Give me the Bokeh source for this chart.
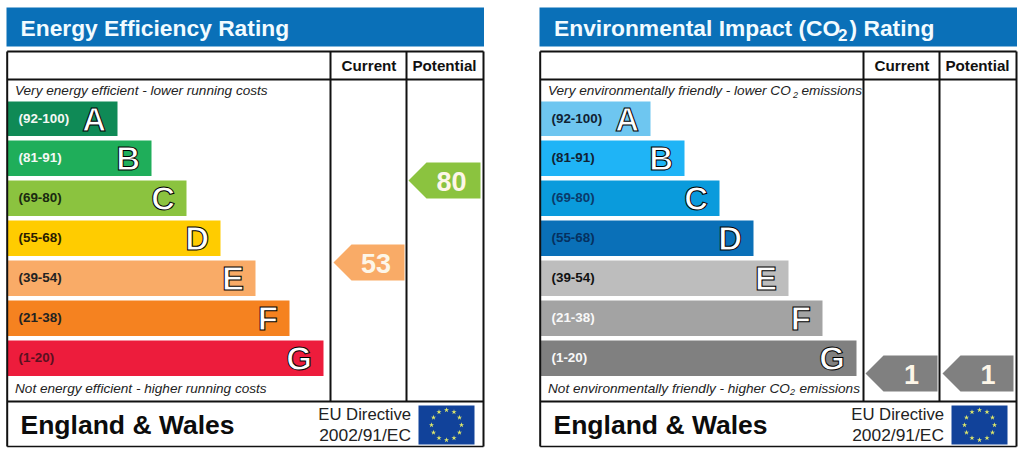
import math
from bokeh.plotting import figure
from bokeh.models import Range1d
from bokeh.core.properties import value
from bokeh.embed import file_html
from bokeh.resources import INLINE

# ---- data ----
band_letters = ["A", "B", "C", "D", "E", "F", "G"]
band_ranges = ["(92-100)", "(81-91)", "(69-80)", "(55-68)", "(39-54)", "(21-38)", "(1-20)"]
bar_lengths = [110, 144, 179, 213, 248, 282, 316]
energy_colors = ["#0f8a56", "#1fae5a", "#8bc33f", "#ffcc00", "#f9ab67", "#f58220", "#ed1c3c"]
env_colors = ["#6ec6f0", "#1fb4f6", "#0a9bdc", "#0a70b8", "#bdbdbd", "#a3a3a3", "#808080"]
energy_label_colors = ["#f4f8f4", "#f4f8f4", "#1a2a10", "#2a1c00", "#222222", "#222222", "#5a1020"]
env_label_colors = ["#112233", "#112233", "#0a3a6a", "#06305f", "#111111", "#f8f8f8", "#f8f8f8"]
energy_current, energy_potential = 53, 80
env_current, env_potential = 1, 1
column_titles = ["Current", "Potential"]
region = "England & Wales"
directive = ["EU Directive", "2002/91/EC"]

FONT = value("Liberation Sans")
W, H = 1024, 452
p = figure(width=W, height=H, x_range=Range1d(1, W + 1), y_range=Range1d(H + 1, 1),
           output_backend="svg", toolbar_location=None, min_border=0,
           background_fill_color="white", outline_line_color=None)
p.axis.visible = False
p.xgrid.visible = False
p.ygrid.visible = False


def txt(x, y, s, size, color="#111111", style="normal", align="left", base="middle", **kw):
    p.text([x], [y], text=[s], text_font=FONT, text_font_size=f"{size}px", text_color=color,
           text_font_style=style, text_align=align, text_baseline=base, **kw)


def arrow(x_tip, x_shoulder, x_right, y_top, y_bot, color, label):
    ym = (y_top + y_bot) / 2
    p.patch([x_tip, x_shoulder, x_right, x_right, x_shoulder],
            [ym, y_top, y_top, y_bot, y_bot], fill_color=color, line_color=None)
    off = -2 if label >= 10 else 1
    txt((x_shoulder + x_right) / 2 + off, ym + 1, str(label), 27, color="#fdf6e8", style="bold", align="center")


def panel(dx, colors, label_colors, cur, pot, cur_arrow, pot_arrow):
    # header
    p.quad(left=[dx + 7], right=[dx + 484.5], top=[8], bottom=[47], fill_color="#0a70b8", line_color=None)
    # bars
    tops = [102 + i * 40 - (1 if i else 0) for i in range(7)]
    for i, (ln, c) in enumerate(zip(bar_lengths, colors)):
        t = tops[i]
        b = t + (34.5 if i == 0 else 35.5)
        p.quad(left=[dx + 8], right=[dx + 8 + ln], top=[t], bottom=[b], fill_color=c, line_color=None)
        txt(dx + 19, t + 17, band_ranges[i], 13.4, color=label_colors[i], style="bold")
        txt(dx + 8 + ln - 11.5, t + 18, band_letters[i], 33, color="#ffffff", style="bold", align="right",
            text_outline_color="#000000")
    # frame
    xs0, xs1 = dx + 7.7, dx + 484
    for y in (52, 80, 402, 447):
        w = 1.4 if y == 447 else 2
        p.line([xs0, xs1], [y, y], line_color="#111111", line_width=w)
    for x in (xs0, dx + 331, dx + 407, xs1):
        p.line([x, x], [52, 402 if x in (dx + 331, dx + 407) else 447], line_color="#111111", line_width=2)
    # column heads
    txt(dx + 369.5, 66, column_titles[0], 15.2, style="bold", align="center")
    txt(dx + 445, 66, column_titles[1], 15.2, style="bold", align="center")
    # pointers
    arrow(*cur_arrow, cur)
    arrow(*pot_arrow, pot)
    # footer
    txt(dx + 21, 425, region, 26.5, color="#0c0c0c", style="bold")
    txt(dx + 411.5, 415, directive[0], 16.7, color="#222222", align="right")
    txt(dx + 411.5, 435, directive[1], 17.4, color="#222222", align="right")
    # flag
    p.quad(left=[dx + 419], right=[dx + 475], top=[406], bottom=[445], fill_color="#11429a", line_color=None)
    sx = [dx + 447 + 15 * math.sin(k * math.pi / 6) for k in range(12)]
    sy = [425.5 - 15 * math.cos(k * math.pi / 6) for k in range(12)]
    p.scatter(sx, sy, marker="star", size=5.5, fill_color="#dfe86a", line_color=None)


panel(0, energy_colors, energy_label_colors, energy_current, energy_potential,
      (334, 352, 405, 245, 281, energy_colors[4]), (409, 427, 481, 163, 199, energy_colors[2]))
panel(533, env_colors, env_label_colors, env_current, env_potential,
      (866, 884, 938, 356, 392, env_colors[6]), (943, 961, 1014, 356, 392, env_colors[6]))

ITAL = 13.6
TITLE = 22.8
# left-panel texts
txt(21, 28, "Energy Efficiency Rating", TITLE, color="#f2fbff", style="bold")
txt(15.5, 91, "Very energy efficient - lower running costs", ITAL, color="#222222", style="italic")
txt(15.5, 388.5, "Not energy efficient - higher running costs", ITAL, color="#222222", style="italic")

# right-panel texts
txt(554.5, 28, "Environmental Impact (CO", TITLE, color="#f2fbff", style="bold")
txt(838.5, 35, "2", 17, color="#f2fbff", style="bold")
txt(850, 28, ") Rating", TITLE, color="#f2fbff", style="bold")
txt(548.5, 91, "Very environmentally friendly - lower CO", ITAL, color="#222222", style="italic")
txt(793.5, 95, "2", 9, color="#222222", style="italic")
txt(802, 91, "emissions", ITAL, color="#222222", style="italic")
txt(548.5, 388.5, "Not environmentally friendly - higher CO", ITAL, color="#222222", style="italic")
txt(790.5, 392.5, "2", 9, color="#222222", style="italic")
txt(800, 388.5, "emissions", ITAL, color="#222222", style="italic")

open("out.html", "w").write(file_html(p, INLINE))
